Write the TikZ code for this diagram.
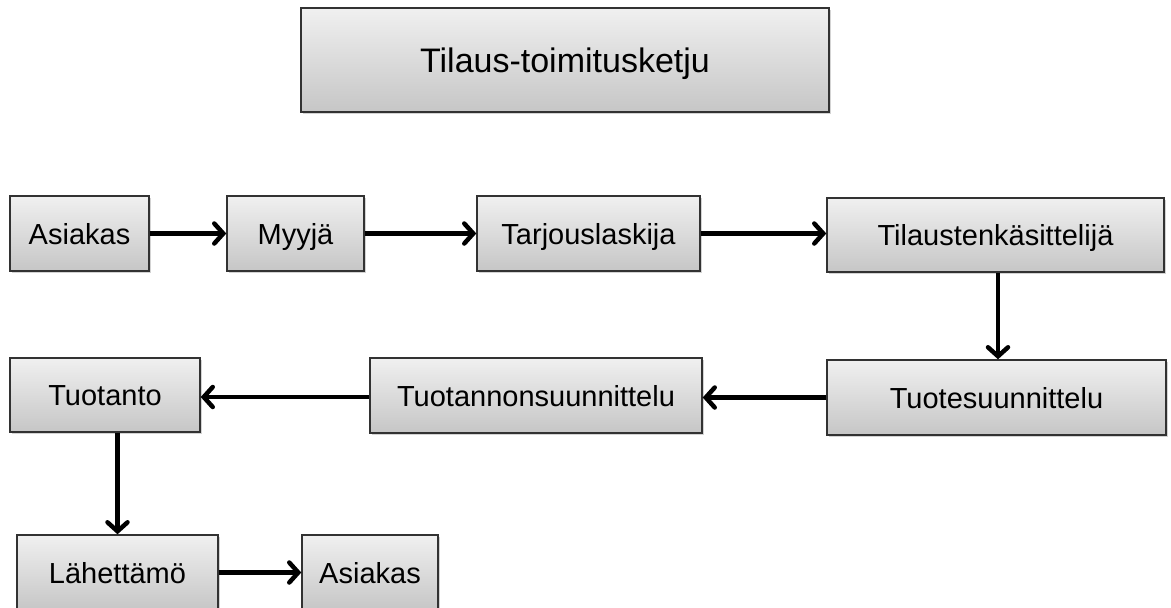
\documentclass[tikz,border=0pt]{standalone}
\usepackage{fontspec}
\setmainfont{Liberation Sans}
\usetikzlibrary{arrows.meta,shadows,calc}
\definecolor{boxtop}{RGB}{240,240,240}
\definecolor{boxbot}{RGB}{198,198,198}
\definecolor{boxline}{RGB}{50,50,50}
\tikzset{
  box/.style={draw=boxline, line width=1.4pt, top color=boxtop, bottom color=boxbot,
    drop shadow={shadow xshift=1.5pt, shadow yshift=-1.5pt, opacity=0.35},
    inner sep=0pt, text height=21pt, text depth=0pt,
    font=\fontsize{29}{32}\selectfont},
  flow/.style={line width=4.5pt, -{Straight Barb[length=9pt,width=20pt,line cap=round]}}
}
\begin{document}
\begin{tikzpicture}[x=1pt,y=-1pt]
\useasboundingbox (0,0) rectangle (1171,608);
\node[box, minimum width=528pt, minimum height=104pt, text height=24pt, font=\fontsize{34}{38}\selectfont] (title) at (565,60) {Tilaus-toimitusketju};
\node[box, minimum width=139pt, minimum height=75pt] (a1) at (79.5,233.5) {Asiakas};
\node[box, minimum width=137pt, minimum height=75pt] (myyja) at (295.5,233.5) {Myyjä};
\node[box, minimum width=223pt, minimum height=75pt] (tarjous) at (588.5,233.5) {Tarjouslaskija};
\node[box, minimum width=337pt, minimum height=74pt] (tilausten) at (995.5,235) {Tilaustenkäsittelijä};
\node[box, minimum width=339pt, minimum height=75pt] (tuotes) at (996.5,397.5) {Tuotesuunnittelu};
\node[box, minimum width=332pt, minimum height=75pt] (tuotannon) at (536,395.5) {Tuotannonsuunnittelu};
\node[box, minimum width=190pt, minimum height=74pt] (tuotanto) at (105,395) {Tuotanto};
\node[box, minimum width=201pt, minimum height=75pt] (lahettamo) at (117.5,572.5) {Lähettämö};
\node[box, minimum width=136pt, minimum height=75pt] (a2) at (370,572.5) {Asiakas};

\draw[flow] (a1.east) -- (myyja.west);
\draw[flow] (myyja.east) -- (tarjous.west);
\draw[flow] (tarjous.east) -- (tarjous.east -| tilausten.west);
\draw[flow] ($(tilausten.south)+(2.5,0)$) -- ($(tilausten.south |- tuotes.north)+(2.5,0)$);
\draw[flow] (tuotes.west) -- (tuotes.west -| tuotannon.east);
\draw[flow] ($(tuotannon.west)+(0,1.5)$) -- ($(tuotannon.west -| tuotanto.east)+(0,1.5)$);
\draw[flow] (tuotanto.south -| lahettamo.north) -- (lahettamo.north);
\draw[flow] (lahettamo.east) -- (a2.west);
\end{tikzpicture}
\end{document}
